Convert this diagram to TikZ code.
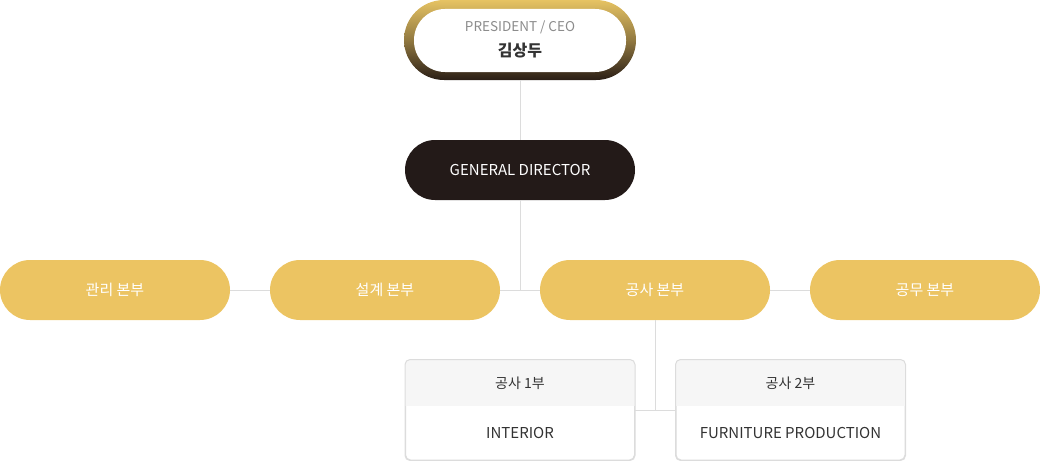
\documentclass[tikz,border=0pt]{standalone}
\usepackage{fontspec}
\setmainfont{Noto Sans CJK KR}
\usetikzlibrary{positioning}

\definecolor{goldtop}{HTML}{E6C363}
\definecolor{goldbot}{HTML}{2A1E16}
\definecolor{gdfill}{HTML}{231A18}
\definecolor{deptfill}{HTML}{ECC462}
\definecolor{linkgray}{HTML}{DCDCDC}
\definecolor{headgray}{HTML}{F6F6F6}
\definecolor{textgray}{HTML}{333333}

\tikzset{
  pill/.style={rounded corners=30pt, minimum width=230pt, minimum height=60pt, inner sep=0pt},
  deptbox/.style={pill, fill=deptfill, text=white, font=\fontsize{15}{18}\selectfont},
  teambox/.style={draw=linkgray, line width=1pt, fill=white, rounded corners=5pt,
    minimum width=229pt, minimum height=100pt, inner sep=0pt},
  teamtext/.style={text=textgray, font=\fontsize{15}{17}\selectfont},
  link/.style={draw=linkgray, line width=1pt}
}

\begin{document}
\begin{tikzpicture}[x=1pt, y=-1pt]
  \useasboundingbox (0,0) rectangle (1040,460);

  % top
  \node[rounded corners=40pt, minimum width=232pt, minimum height=80pt, inner sep=0pt,
    top color=goldtop, bottom color=goldbot, middle color=goldtop!55!goldbot] (ceo) at (520,40) {};
  \node[rounded corners=31pt, minimum width=212pt, minimum height=63pt, inner sep=0pt, fill=white] (ceoin) at (520,40.5) {};
  \node[text=gray!90, font=\fontsize{13.5}{15}\selectfont] (ceotitle) at (520,27) {PRESIDENT / CEO};
  \node[text=textgray, font=\fontsize{16}{18}\selectfont\bfseries] (ceoname) at (520,51) {김상두};

  \node[pill, fill=gdfill, text=white, font=\fontsize{15}{18}\selectfont] (gd) at (520,170) {GENERAL DIRECTOR};

  % departments
  \node[deptbox] (dep1) at (115,290) {관리 본부};
  \node[deptbox] (dep2) at (385,290) {설계 본부};
  \node[deptbox] (dep3) at (655,290) {공사 본부};
  \node[deptbox] (dep4) at (925,290) {공무 본부};

  % teams
  \node[teambox] (team1) at (520,410) {};
  \node[teambox] (team2) at (790.5,410) {};
  \foreach \t in {team1,team2}{
    \begin{scope}
      \clip[rounded corners=5pt] (\t.south west) rectangle (\t.north east);
      \fill[headgray] (\t.north west) rectangle ([yshift=-46pt]\t.north east);
    \end{scope}
    \draw[linkgray, line width=1pt, rounded corners=5pt] (\t.south west) rectangle (\t.north east);
  }
  \node[teamtext, font=\fontsize{14}{16}\selectfont] (team1head) at (520,383) {공사 1부};
  \node[teamtext] (team1body) at (520,433) {INTERIOR};
  \node[teamtext, font=\fontsize{14}{16}\selectfont] (team2head) at (790.5,383) {공사 2부};
  \node[teamtext] (team2body) at (790.5,433) {FURNITURE PRODUCTION};

  % connectors
  \draw[link] (ceo) -- (gd);
  \draw[link] (gd.south) -- (gd.south |- dep2.east);
  \draw[link] (dep1.east) -- (dep2.west);
  \draw[link] (dep2.east) -- (dep3.west);
  \draw[link] (dep3.east) -- (dep4.west);
  \draw[link] (dep3.south) -- (dep3.south |- team1.east);
  \draw[link] (team1.east) -- (team2.west);
\end{tikzpicture}
\end{document}
